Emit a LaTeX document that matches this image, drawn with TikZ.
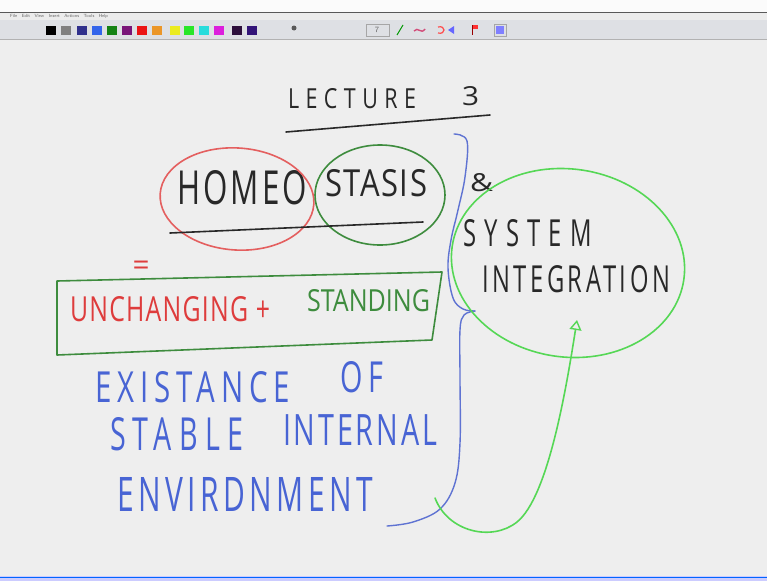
\documentclass[tikz,border=0pt]{standalone}
\usepackage{fontspec}
\usepackage{graphicx}
\newfontfamily\hand{Open Sans}
\usetikzlibrary{shapes.geometric,arrows.meta}
\definecolor{board}{RGB}{238,238,238}
\definecolor{inkblack}{RGB}{40,40,40}
\definecolor{inkred}{RGB}{222,60,60}
\definecolor{linered}{RGB}{228,95,95}
\definecolor{inkgreen}{RGB}{62,140,62}
\definecolor{lime}{RGB}{85,215,85}
\definecolor{inkblue}{RGB}{72,100,212}
\definecolor{braceblue}{RGB}{95,115,210}
\definecolor{menubar}{RGB}{236,236,236}
\definecolor{toolbar}{RGB}{222,224,228}
% name, colour, left x, baseline y, width, height, letter space, text
\newcommand\hwnode[8]{\node[hw,text=#2] (#1) at (#3,-#4)
  {\resizebox{#5pt}{#6pt}{\hand\addfontfeatures{LetterSpace=#7}#8}};}
\begin{document}
\begin{tikzpicture}[x=1pt,y=1pt,
  hw/.style={inner sep=0pt,outer sep=0pt,anchor=south west},
  ink/.style={line width=1.6pt,line cap=round,line join=round},
  swatch/.style={inner sep=0pt,minimum width=9.5pt,minimum height=9pt,anchor=north west}]
\useasboundingbox (0,0) rectangle (767,-581);
% window chrome
\fill[white!97!gray] (0,0) rectangle (767,-12);
\fill[menubar] (0,-12) rectangle (767,-20);
\draw[gray!70!black,line width=1pt] (0,-12) -- (767,-12);
\fill[toolbar] (0,-20) rectangle (767,-39);
\draw[gray!60,line width=0.6pt] (0,-39) -- (767,-39);
\node[font=\fontsize{4.5}{5}\selectfont\sffamily,text=gray!80!black,anchor=west,inner sep=0pt] (menu) at (10,-16.2)
  {File\quad Edit\quad View\quad Insert\quad Actions\quad Tools\quad Help};
\foreach \xx/\cc [count=\i] in {46/black,61/gray,77/{rgb,255:red,48;green,48;blue,140},92/{rgb,255:red,50;green,100;blue,235},
  107/{rgb,255:red,20;green,130;blue,20},122/{rgb,255:red,120;green,20;blue,120},137/{rgb,255:red,235;green,20;blue,20},
  152/{rgb,255:red,235;green,150;blue,40},170/{rgb,255:red,235;green,235;blue,30},184/{rgb,255:red,40;green,230;blue,40},
  199/{rgb,255:red,40;green,220;blue,220},214/{rgb,255:red,220;green,30;blue,220},232/{rgb,255:red,45;green,15;blue,60},
  247/{rgb,255:red,50;green,20;blue,120}}
  \node[swatch,fill=\cc] (sw\i) at (\xx,-26) {};
\fill[gray!70!black] (294,-28) circle (2.5pt);
\draw[gray!70,line width=0.6pt] (366,-24) rectangle (389,-36);
\node[inner sep=0pt,font=\fontsize{8}{8}\selectfont\sffamily,text=gray!80!black] (tool7) at (377,-30) {7};
\draw[green!60!black,line width=1pt] (397,-35) -- (403,-25);
\draw[purple!70,line width=1.4pt] (414,-31) .. controls (418,-26) and (421,-35) .. (425,-29);
\draw[red!70,line width=1.2pt] (438,-27) .. controls (446,-25) and (446,-35) .. (438,-33);
\fill[blue!60] (448,-30) -- (454,-26) -- (454,-34) -- cycle;
\fill[red!80] (472,-25) rectangle (478,-29);
\draw[red!60!black,line width=0.8pt] (472,-25) -- (472,-35);
\draw[gray!70,line width=0.6pt] (494,-24) rectangle (506,-36);
\fill[blue!50] (496,-26) rectangle (504,-34);
% board
\fill[board] (0,-39.5) rectangle (767,-576);
\fill[blue!20!white] (0,-576) rectangle (767,-581);
\draw[blue!60!cyan,line width=1.2pt] (0,-577.5) -- (767,-577.5);
% title
\hwnode{lect}{inkblack}{288}{109}{128}{20}{30}{LECTURE}
\hwnode{three}{inkblack}{462}{106}{17}{19}{0}{3}
\coordinate (ulA) at (286,-132);
\coordinate (ulB) at (490,-115);
\draw[ink,inkblack] (ulA) -- (ulB);
% homeostasis
\hwnode{homeo}{inkblack}{177}{205}{130}{34}{10}{HOMEO}
\hwnode{stasis}{inkblack}{325}{197}{102}{27}{5}{STASIS}
\node[draw=linered,ink,ellipse,minimum width=154pt,minimum height=102pt,rotate=-4] (redell) at (237,-199) {};
\node[draw=inkgreen,ink,ellipse,minimum width=130pt,minimum height=100pt] (greenell) at (380,-195) {};
\coordinate (hlA) at (170,-233);
\coordinate (hlB) at (423,-222);
\draw[ink,inkblack] (hlA) -- (hlB);
\node[text=inkred,inner sep=0pt] (eq) at (141,-268) {\resizebox{17pt}{!}{\hand =}};
% box
\hwnode{unch}{inkred}{70}{322}{200}{25}{5}{UNCHANGING +}
\hwnode{stand}{inkgreen}{307}{312}{123}{22}{0}{STANDING}
\coordinate (bxA) at (57,-281);
\coordinate (bxB) at (442,-272);
\coordinate (bxC) at (432,-340);
\coordinate (bxD) at (57,-355);
\draw[ink,inkgreen] (bxA) -- (bxB) -- (bxC) -- (bxD) -- cycle;
% blue text
\hwnode{exist}{inkblue}{95}{403}{195}{31}{20}{EXISTANCE}
\hwnode{of}{inkblue}{340}{393}{43}{31}{20}{OF}
\hwnode{stable}{inkblue}{110}{451}{133}{33}{25}{STABLE}
\hwnode{intern}{inkblue}{283}{445}{154}{31}{10}{INTERNAL}
\hwnode{envir}{inkblue}{117}{511}{256}{34}{15}{ENVIRDNMENT}
% brace
\draw[ink,braceblue,line width=1.4pt] plot[smooth,tension=0.6] coordinates {
  (454,-134) (467,-141) (465,-177) (458,-210) (451,-240) (448,-268) (453,-298) (463,-309) (475,-311)};
\draw[ink,braceblue,line width=1.4pt] plot[smooth,tension=0.6] coordinates {
  (475,-311) (464,-315) (460,-330) (460,-378) (460,-443) (455,-483) (440,-509) (413,-522) (387,-526)};
% right side
\hwnode{amp}{inkblack}{470}{192}{23}{18}{0}{\&}
\node[draw=lime,ink,ellipse,minimum width=234pt,minimum height=188pt,rotate=-8] (integ) at (568,-263) {};
\hwnode{system}{inkblack}{463}{247}{129}{27}{35}{SYSTEM}
\hwnode{integr}{inkblack}{482}{293}{188}{27}{15}{INTEGRATION}
\coordinate (arS) at (435,-498);
\coordinate (arT) at (577,-320);
\draw[ink,lime,-{Triangle[open,length=10pt,width=12pt,line width=1.4pt]}]
  (arS) .. controls (448,-532) and (492,-542) .. (517,-522)
        .. controls (548,-497) and (566,-390) .. (arT);
\end{tikzpicture}
\end{document}
